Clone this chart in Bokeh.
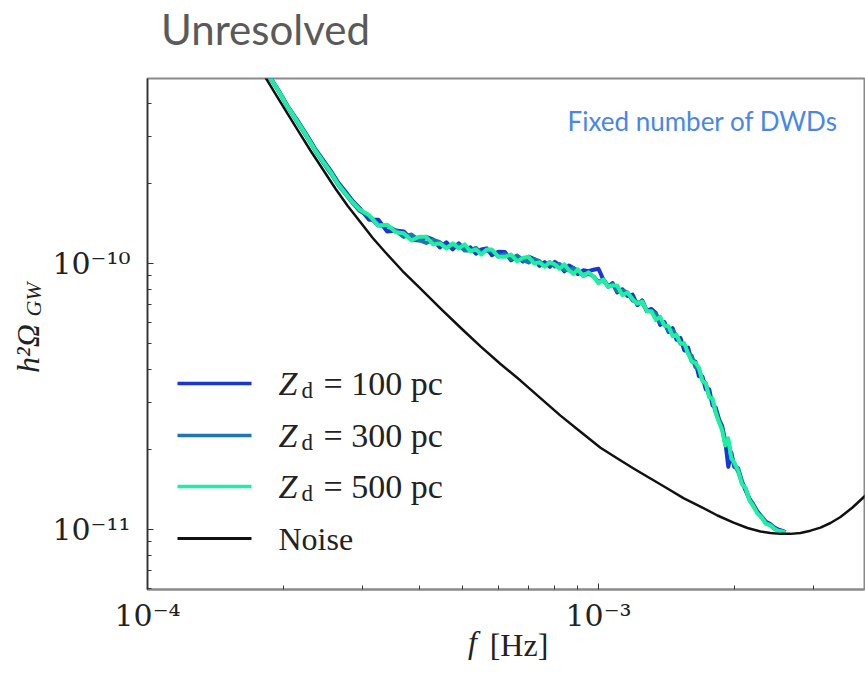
import json
from bokeh.plotting import figure
from bokeh.models import (Range1d, LinearScale, FixedTicker, CustomJSTickFormatter,
                          Label, ColumnDataSource, LinearAxis)
from bokeh.embed import file_html
from bokeh.resources import INLINE

# ---------------- data ----------------
# frequency grid in mHz, spectra in units of 1e-11
freq_mhz = [0.175, 0.185, 0.195, 0.205, 0.215, 0.225, 0.235, 0.245, 0.255, 0.265,
            0.275, 0.285, 0.295, 0.31, 0.325, 0.34, 0.355, 0.37, 0.385, 0.40,
            0.415, 0.43, 0.445, 0.46, 0.475, 0.49, 0.505, 0.52, 0.535, 0.55,
            0.565, 0.58, 0.60, 0.62, 0.64, 0.66, 0.68, 0.70, 0.72, 0.74,
            0.76, 0.78, 0.80, 0.82, 0.84, 0.86, 0.88, 0.90, 0.925, 0.95,
            0.975, 1.0, 1.025, 1.05, 1.075, 1.10, 1.13, 1.16, 1.19, 1.22,
            1.25, 1.28, 1.31, 1.34, 1.37, 1.40, 1.43, 1.46, 1.49, 1.52,
            1.55, 1.58, 1.61, 1.64, 1.67, 1.70, 1.73, 1.76, 1.79, 1.82,
            1.85, 1.88, 1.91, 1.94, 1.97, 2.00, 2.04, 2.08, 2.12, 2.16,
            2.20, 2.25, 2.30, 2.35, 2.40, 2.45, 2.50, 2.55, 2.60]

omega_100 = [60.8, 51.6, 44.9, 38.8, 34.5, 30.6, 27.1, 24.5, 22.3, 20.1, 18.6, 17.2, 16.2,
             14.6, 14.6, 13.2, 13.3, 13.2, 12.3, 12.2, 12.6, 12.3, 11.5,
             12.0, 11.3, 11.9, 11.3, 11.5, 10.9, 11.3, 11.4, 10.75, 11.07,
             11.05, 10.29, 10.62, 10.19, 10.61, 10.40, 9.80, 10.12, 9.72, 10.14,
             9.86, 9.35, 9.82, 9.61, 9.13, 9.43, 9.36, 9.47, 9.56, 8.70,
             8.18, 8.44, 7.79, 8.00, 7.55, 7.64, 6.98, 7.27, 6.63, 6.75,
             6.52, 5.88, 6.02, 5.53, 5.71, 5.17, 5.24, 4.71, 4.83, 4.28,
             4.28, 3.77, 3.76, 3.36, 3.37, 2.93, 2.87,
             2.60, 2.45, 2.15, 1.72, 1.95, 1.72, 1.70, 1.52, 1.40, 1.31,
             1.25, 1.17, 1.12, 1.07, 1.05, 1.02, 1.00, 0.99, 0.978]

omega_300 = [60.3, 51.2, 44.6, 38.5, 34.0, 30.1, 26.7, 24.0, 21.8, 19.7, 18.2, 16.9, 15.8,
             15.05, 13.90, 13.88, 13.32, 12.59, 12.85, 12.24, 11.95, 12.28, 12.02,
             11.53, 11.77, 11.75, 11.18, 11.18, 11.45, 10.95, 11.19, 11.19, 10.63,
             10.84, 10.40, 10.72, 10.30, 10.09, 10.40, 10.20, 9.82, 10.12, 9.74,
             9.96, 9.45, 9.43, 9.61, 9.41, 8.98, 9.18, 8.94, 8.52, 8.70,
             8.27, 8.35, 7.87, 7.92, 7.78, 7.27, 7.13, 7.13, 6.63, 6.62,
             6.46, 6.00, 5.96, 5.59, 5.60, 5.33, 4.99, 4.96, 4.59, 4.50,
             4.08, 4.01, 3.65, 3.53, 3.18, 3.05, 2.75,
             2.56, 2.40, 2.10, 2.15, 1.88, 1.76, 1.65, 1.50, 1.42, 1.30,
             1.24, 1.16, 1.11, 1.06, 1.04, 1.01, 0.99, 0.985, 0.975]

omega_500 = [60.5, 51.4, 44.7, 38.6, 34.2, 30.3, 26.8, 24.2, 22.0, 19.8, 18.3, 17.0, 16.0,
             15.2, 13.9, 14.0, 13.1, 13.0, 12.2, 12.6, 12.6, 11.8, 11.9,
             11.4, 11.9, 11.4, 11.8, 11.1, 11.3, 10.8, 11.3, 11.3, 10.6,
             10.6, 10.8, 10.2, 10.5, 10.6, 10.0, 10.1, 9.72, 10.1, 9.94,
             9.56, 9.93, 9.43, 9.14, 9.51, 8.98, 9.27, 8.94, 8.43, 8.70,
             8.18, 8.27, 8.27, 7.60, 7.78, 7.35, 7.06, 7.20, 6.63, 6.62,
             6.14, 6.30, 5.84, 5.81, 5.33, 5.39, 4.99, 5.01, 4.59, 4.28,
             4.24, 4.05, 3.62, 3.53, 3.14, 3.11, 2.75,
             2.53, 2.36, 2.07, 2.20, 1.85, 1.79, 1.67, 1.48, 1.43, 1.29,
             1.23, 1.15, 1.11, 1.05, 1.04, 1.01, 0.99, 0.983, 0.974]

noise_freq_mhz = [0.1608, 0.1827, 0.1932, 0.2044, 0.2162, 0.2298, 0.2443, 0.2612, 0.2777, 0.2967,
                  0.3155, 0.3371, 0.3677, 0.4030, 0.4485, 0.5020, 0.5475, 0.6064, 0.6715, 0.7436,
                  0.8236, 0.9122, 1.0102, 1.1018, 1.196, 1.304, 1.422, 1.543, 1.683, 1.836,
                  1.993, 2.140, 2.287, 2.406, 2.532, 2.665, 2.805, 2.952, 3.106, 3.269,
                  3.440, 3.658, 3.908, 4.220]
noise_omega = [70.1, 50.0, 42.8, 36.6, 31.4, 26.6, 22.7, 19.1, 16.5, 14.3,
               12.5, 11.0, 9.37, 8.05, 6.72, 5.60, 4.88, 4.19, 3.63, 3.12,
               2.68, 2.33, 2.03, 1.849, 1.696, 1.555, 1.426, 1.313, 1.220, 1.129,
               1.062, 1.013, 0.983, 0.970, 0.963, 0.963, 0.970, 0.990, 1.017, 1.058,
               1.114, 1.210, 1.342, 1.528]

series_values = [omega_100, omega_300, omega_500]
series_heights = ["100 pc", "300 pc", "500 pc"]
series_colors = ["#1736d2", "#1d78b2", "#1ef0a0"]
noise_label = "Noise"
x_major = [1e-4, 1e-3]
x_minor = [2e-4, 3e-4, 4e-4, 5e-4, 6e-4, 7e-4, 8e-4, 9e-4, 2e-3, 3e-3]
y_major = [1e-11, 1e-10]
y_minor = [6e-12, 7e-12, 8e-12, 9e-12, 2e-11, 3e-11, 4e-11, 5e-11, 6e-11, 7e-11,
           8e-11, 9e-11, 2e-10, 3e-10, 4e-10]

title_text = "Unresolved"
note_text = "Fixed number of DWDs"

# ---------------- figure ----------------
FW, FH = 717, 511
p = figure(x_axis_type="log", y_axis_type="log",
           x_range=Range1d(1e-4, 3.889e-3), y_range=Range1d(5.95e-12, 4.96e-10),
           frame_width=FW, frame_height=FH,
           min_border_left=147, min_border_right=1, min_border_top=78, min_border_bottom=85,
           output_backend="svg", toolbar_location=None)
p.background_fill_color = "white"
p.border_fill_color = "white"
p.xgrid.visible = False
p.ygrid.visible = False
p.outline_line_color = "#8a8a8a"
p.outline_line_width = 2

# pixel-like helper coordinate system (frame pixels) for legend and text placement
p.extra_x_ranges = {"px": Range1d(0, FW)}
p.extra_y_ranges = {"px": Range1d(0, FH)}
p.extra_x_scales = {"px": LinearScale()}
p.extra_y_scales = {"px": LinearScale()}

fmt = CustomJSTickFormatter(code="""
const sup = {"-":"\u207b","0":"\u2070","1":"\u00b9","2":"\u00b2","3":"\u00b3","4":"\u2074",
             "5":"\u2075","6":"\u2076","7":"\u2077","8":"\u2078","9":"\u2079"};
const e = Math.round(Math.log10(tick));
return "10" + String(e).split("").map(c => sup[c]).join("");
""")

for ax, major, minor in ((p.xaxis[0], x_major, x_minor), (p.yaxis[0], y_major, y_minor)):
    ax.ticker = FixedTicker(ticks=major, minor_ticks=minor)
    ax.formatter = fmt
    ax.major_label_text_font = "DejaVu Serif"
    ax.major_label_text_font_size = "30px"
    ax.major_label_text_color = "#222222"
    ax.major_tick_in = 6
    ax.major_tick_out = 0
    ax.minor_tick_in = 4
    ax.minor_tick_out = 0
    ax.major_tick_line_color = "#333333"
    ax.minor_tick_line_color = "#333333"
p.xaxis.axis_line_color = "#8a8a8a"
p.xaxis.axis_line_width = 2
p.yaxis.axis_line_color = "#333333"
p.yaxis.axis_line_width = 1.5
p.xaxis.major_label_standoff = 8
p.yaxis.major_label_standoff = 17


def text_axis(dim, side, pos, text, font, size, color, standoff, style="normal",
              orientation="horizontal"):
    """An extra, line-less axis whose single tick label carries a piece of text."""
    ax = LinearAxis(x_range_name="px") if dim == "x" else LinearAxis(y_range_name="px")
    ax.ticker = FixedTicker(ticks=[pos], minor_ticks=[])
    ax.formatter = CustomJSTickFormatter(code="return " + json.dumps(text) + ";")
    ax.axis_line_color = None
    ax.major_tick_line_color = None
    ax.minor_tick_line_color = None
    ax.major_tick_in = 0
    ax.major_tick_out = 0
    ax.minor_tick_in = 0
    ax.minor_tick_out = 0
    ax.major_label_text_font = font
    ax.major_label_text_font_size = size
    ax.major_label_text_font_style = style
    ax.major_label_text_color = color
    ax.major_label_standoff = standoff
    ax.major_label_orientation = orientation
    p.add_layout(ax, side)
    return ax


serif = "Liberation Serif"
# title above the frame
text_axis("x", "above", 118, title_text, "Lato", "42px", "#5a5a5a", 25)
# x label: italic f, then [Hz]
text_axis("x", "below", 325, "f", serif, "32px", "#222222", -12, style="italic")
text_axis("x", "below", 371.5, "[Hz]", serif, "32px", "#222222", -36)
# y label: h²Ω then subscript GW
text_axis("y", "left", 241, "h\u00b2\u03a9", serif, "32px", "#222222", 4,
          style="italic", orientation="vertical")
text_axis("y", "left", 290, "GW", serif, "22px", "#222222", -39,
          style="italic", orientation="vertical")

# ---------------- data lines ----------------
for vals, col in zip(series_values, series_colors):
    src = ColumnDataSource(dict(f=[v * 1e-3 for v in freq_mhz], o=[v * 1e-11 for v in vals]))
    p.line("f", "o", source=src, line_color=col, line_width=4, line_join="round")

nsrc = ColumnDataSource(dict(f=[v * 1e-3 for v in noise_freq_mhz], o=[v * 1e-11 for v in noise_omega]))
p.line("f", "o", source=nsrc, line_color="#111111", line_width=2.5, line_join="round")

# ---------------- legend (drawn by hand) ----------------
leg_colors = series_colors + ["#111111"]
row_y = [206, 154, 103, 51]
for col, ry in zip(leg_colors, row_y):
    p.line([30, 104], [ry, ry], x_range_name="px", y_range_name="px",
           line_color=col, line_width=3.5 if col != "#111111" else 2.8)

for h, ry in zip(series_heights, row_y[:3]):
    by = ry
    p.add_layout(Label(x=131, y=by, x_units="screen", y_units="screen", text="Z",
                       text_font=serif, text_font_style="italic", text_font_size="34px",
                       text_color="#222222", text_baseline="alphabetic"))
    p.add_layout(Label(x=154, y=by - 7, x_units="screen", y_units="screen", text="d",
                       text_font=serif, text_font_size="23px",
                       text_color="#222222", text_baseline="alphabetic"))
    p.add_layout(Label(x=176, y=by, x_units="screen", y_units="screen", text="= " + h,
                       text_font=serif, text_font_size="34px",
                       text_color="#222222", text_baseline="alphabetic"))
p.add_layout(Label(x=131, y=row_y[3], x_units="screen", y_units="screen", text=noise_label,
                   text_font=serif, text_font_size="32px",
                   text_color="#222222", text_baseline="alphabetic"))

p.add_layout(Label(x=420, y=469, x_units="screen", y_units="screen", text=note_text,
                   text_font="Lato", text_font_size="26px", text_color="#4a86e8",
                   text_baseline="alphabetic"))

open("out.html", "w").write(file_html(p, INLINE))
